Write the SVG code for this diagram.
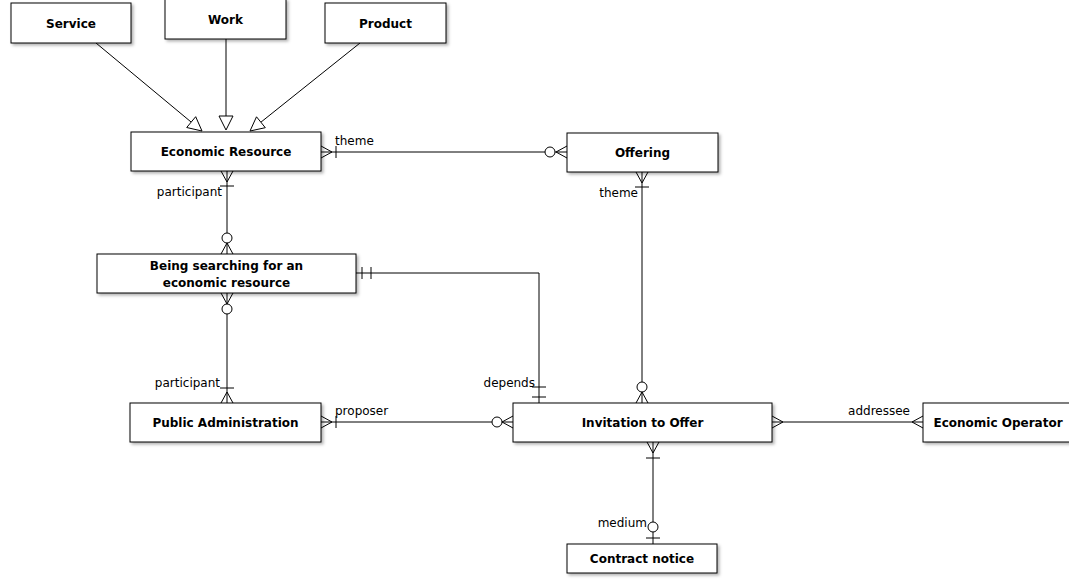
<svg xmlns="http://www.w3.org/2000/svg" width="1069" height="587" viewBox="0 0 1069 587">
<style>
.box{fill:#fff;stroke:#000;stroke-width:1;filter:url(#sh)}
.t{font-family:"DejaVu Sans",sans-serif;font-size:12px;font-weight:bold;fill:#000;text-anchor:middle}
.l{font-family:"DejaVu Sans",sans-serif;font-size:12px;fill:#000}
.c{fill:none;stroke:#000;stroke-width:1}
.o{fill:#fff;stroke:#000;stroke-width:1}
.g{fill:#fff;stroke:#000;stroke-width:1}
</style>
<defs>
<filter id="sh" x="-10%" y="-20%" width="130%" height="160%">
<feDropShadow dx="2" dy="2" stdDeviation="1.5" flood-color="#000" flood-opacity="0.3"/>
</filter>
</defs>
<rect width="1069" height="587" fill="#fff"/>
<g id="connectors">
<!-- generalizations -->
<path class="c" d="M96,43 L191.2,122.1"/>
<polygon class="g" points="202,131 186.7,127.5 195.7,116.7"/>
<path class="c" d="M226,39 V116"/>
<polygon class="g" points="226,130 219,116 233,116"/>
<path class="c" d="M360,43 L260.9,122.2"/>
<polygon class="g" points="250,131 265.3,127.7 256.5,116.8"/>
<!-- ER - Offering -->
<path class="c" d="M321,152 H567 M321,146 L332,152 L321,158 M336,146 V158 M567,146 L556,152 L567,158"/>
<circle class="o" cx="550" cy="152" r="5"/>
<!-- Offering - Invitation -->
<path class="c" d="M642,172 V403 M636,172 L642,183 L648,172 M635,187 H649 M636,403 L642,392 L648,403"/>
<circle class="o" cx="642" cy="387" r="5"/>
<!-- ER - BS -->
<path class="c" d="M227,171 V254 M221,171 L227,182 L233,171 M220,186 H234 M221,254 L227,243 L233,254"/>
<circle class="o" cx="227" cy="238" r="5"/>
<!-- BS - PA -->
<path class="c" d="M227,293 V403 M221,293 L227,304 L233,293 M221,403 L227,392 L233,403 M220,388 H234"/>
<circle class="o" cx="227" cy="309" r="5"/>
<!-- PA - Invitation -->
<path class="c" d="M321,422 H513 M321,416 L332,422 L321,428 M336,416 V428 M513,416 L502,422 L513,428"/>
<circle class="o" cx="497" cy="422" r="5"/>
<!-- BS - Invitation depends -->
<path class="c" d="M356,273 H539 V403 M362,267 V279 M371,267 V279 M532,387 H546 M532,397 H546"/>
<!-- Invitation - EO -->
<path class="c" d="M772,422 H923 M772,416 L783,422 L772,428 M923,416 L912,422 L923,428"/>
<!-- Invitation - Contract notice -->
<path class="c" d="M653,442 V544 M647,442 L653,453 L659,442 M646,458 H660 M646,538 H660"/>
<circle class="o" cx="653" cy="527" r="5"/>
<!-- labels -->
<text class="l" x="335" y="145">theme</text>
<text class="l" x="638" y="197" text-anchor="end">theme</text>
<text class="l" x="222" y="196" text-anchor="end">participant</text>
<text class="l" x="220" y="387" text-anchor="end">participant</text>
<text class="l" x="335" y="415">proposer</text>
<text class="l" x="535" y="387" text-anchor="end">depends</text>
<text class="l" x="910" y="415" text-anchor="end">addressee</text>
<text class="l" x="647" y="527" text-anchor="end">medium</text>
</g>
<g id="service"><rect class="box" x="11" y="3" width="120" height="40"/><text class="t" x="71" y="27.5">Service</text></g>
<g id="work"><rect class="box" x="165" y="-1" width="121" height="40"/><text class="t" x="225.5" y="23.5">Work</text></g>
<g id="product"><rect class="box" x="325" y="3" width="121" height="40"/><text class="t" x="385.5" y="27.5">Product</text></g>
<g id="economic-resource"><rect class="box" x="131" y="132" width="190" height="39"/><text class="t" x="226" y="155.5">Economic Resource</text></g>
<g id="offering"><rect class="box" x="567" y="133" width="151" height="39"/><text class="t" x="642.5" y="157">Offering</text></g>
<g id="being-searching"><rect class="box" x="97" y="254" width="259" height="39"/><text class="t" x="226.5" y="269.5">Being searching for an</text><text class="t" x="226.5" y="286.5">economic resource</text></g>
<g id="public-administration"><rect class="box" x="130" y="403" width="191" height="39"/><text class="t" x="225.5" y="426.5">Public Administration</text></g>
<g id="invitation"><rect class="box" x="513" y="403" width="259" height="39"/><text class="t" x="642.5" y="426.5">Invitation to Offer</text></g>
<g id="economic-operator"><rect class="box" x="923" y="403" width="150" height="39"/><text class="t" x="998" y="426.5">Economic Operator</text></g>
<g id="contract-notice"><rect class="box" x="567" y="544" width="150" height="29"/><text class="t" x="642" y="563">Contract notice</text></g>
</svg>
